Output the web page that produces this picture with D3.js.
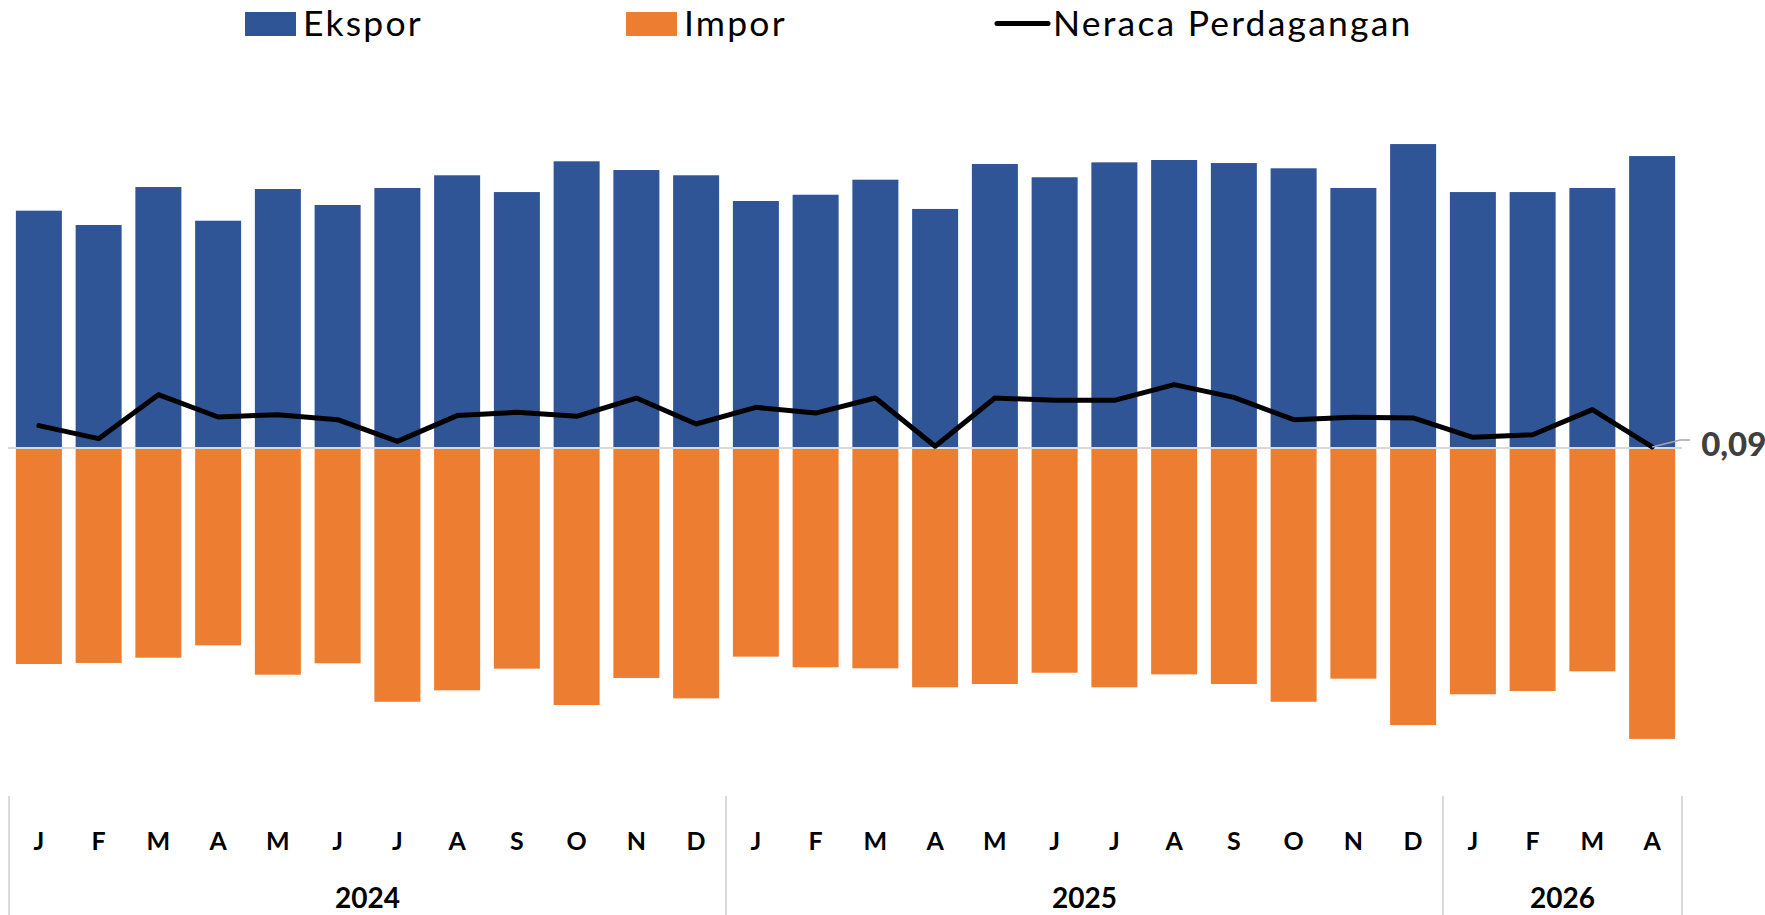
<!DOCTYPE html>
<html>
<head>
<meta charset="utf-8">
<script src="https://cdn.jsdelivr.net/npm/d3@7"></script>
<style>
  body { margin: 0; background: #fff; }
  svg text { font-family: Lato, "Open Sans", sans-serif; }
</style>
</head>
<body>
<div id="chart"></div>
<script>
const width = 1765;
const height = 915;

const monthLabels = ["J", "F", "M", "A", "M", "J", "J", "A", "S", "O", "N", "D",
                     "J", "F", "M", "A", "M", "J", "J", "A", "S", "O", "N", "D",
                     "J", "F", "M", "A"];
const years = ["2024", "2025", "2026"];
const yearMonths = [12, 12, 4];

// miliar USD
const ekspor = [20.37, 19.14, 22.40, 19.51, 22.23, 20.86, 22.32, 23.41, 21.97, 24.61, 23.86, 23.41,
                21.20, 21.74, 23.03, 20.52, 24.38, 23.24, 24.52, 24.72, 24.46, 24.01, 22.32, 26.09,
                21.97, 21.97, 22.32, 25.06];
const impor = [18.54, 18.45, 18.00, 16.94, 19.46, 18.48, 21.78, 20.80, 18.94, 22.06, 19.74, 21.49,
               17.91, 18.82, 18.91, 20.54, 20.26, 19.29, 20.54, 19.43, 20.26, 21.78, 19.80, 23.78,
               21.14, 20.86, 19.17, 24.97];
const neraca = [1.92, 0.80, 4.58, 2.66, 2.86, 2.43, 0.57, 2.78, 3.06, 2.72, 4.29, 2.06,
                3.49, 3.00, 4.29, 0.15, 4.29, 4.09, 4.09, 5.44, 4.35, 2.43, 2.63, 2.58,
                0.92, 1.14, 3.29, 0.09];
const lastLabel = "0,09";

const blue = "#2F5597";
const orange = "#ED7D31";
const grid = "#D9D9D9";

const data = monthLabels.map((m, i) => ({
    i: i, month: m, ekspor: ekspor[i], impor: impor[i], neraca: neraca[i]
}));

const svg = d3.select("#chart").append("svg")
    .attr("width", width)
    .attr("height", height)
    .attr("viewBox", [0, 0, width, height]);

const xScale = d3.scaleBand()
    .domain(data.map(d => d.i))
    .range([9, 1682])
    .paddingInner(0.23)
    .paddingOuter(0.115);

const yScale = d3.scaleLinear()
    .domain([-30, 30])
    .range([448 + 30 * 11.65, 448 - 30 * 11.65]);

const cx = i => xScale(i) + xScale.bandwidth() / 2;

// bars
svg.selectAll(".ekspor")
    .data(data)
    .join("rect")
        .attr("class", "ekspor")
        .attr("x", d => xScale(d.i))
        .attr("y", d => yScale(d.ekspor))
        .attr("width", xScale.bandwidth())
        .attr("height", d => yScale(0) - yScale(d.ekspor))
        .attr("fill", blue);

svg.selectAll(".impor")
    .data(data)
    .join("rect")
        .attr("class", "impor")
        .attr("x", d => xScale(d.i))
        .attr("y", yScale(0))
        .attr("width", xScale.bandwidth())
        .attr("height", d => yScale(-d.impor) - yScale(0))
        .attr("fill", orange);

// zero line
svg.append("line")
    .attr("x1", 8).attr("x2", 1682)
    .attr("y1", yScale(0)).attr("y2", yScale(0))
    .attr("stroke", grid)
    .attr("stroke-width", 2);

// balance line
const lineGenerator = d3.line()
    .x(d => cx(d.i))
    .y(d => yScale(d.neraca));

svg.append("path")
    .datum(data)
    .attr("d", lineGenerator)
    .attr("fill", "none")
    .attr("stroke", "#000")
    .attr("stroke-width", 5)
    .attr("stroke-linejoin", "round")
    .attr("stroke-linecap", "round");

// last value label with leader
const last = data[data.length - 1];
const lx = cx(last.i), ly = yScale(last.neraca);
svg.append("polyline")
    .attr("points", [[lx, ly], [lx + 28, ly - 7], [lx + 38, ly - 7]].join(" "))
    .attr("fill", "none")
    .attr("stroke", "#A6A6A6")
    .attr("stroke-width", 1.5);

svg.append("text")
    .attr("x", lx + 49)
    .attr("y", ly - 4)
    .attr("dominant-baseline", "central")
    .attr("font-size", 33)
    .attr("font-weight", 900)
    .attr("fill", "#404040")
    .text(lastLabel);

// month axis
const axis = svg.append("g");

axis.selectAll(".month")
    .data(data)
    .join("text")
        .attr("class", "month")
        .attr("x", d => cx(d.i))
        .attr("y", 840)
        .attr("text-anchor", "middle")
        .attr("dominant-baseline", "central")
        .attr("font-size", 25)
        .attr("font-weight", "bold")
        .text(d => d.month);

const step = xScale.step();
const x0 = 9;
let start = 0;
const groups = years.map((y, k) => {
    const g = { year: y, from: start, to: start + yearMonths[k] };
    start += yearMonths[k];
    return g;
});

axis.selectAll(".sep")
    .data([0, ...groups.map(g => g.to)])
    .join("line")
        .attr("class", "sep")
        .attr("x1", d => x0 + d * step)
        .attr("x2", d => x0 + d * step)
        .attr("y1", 796)
        .attr("y2", height)
        .attr("stroke", grid)
        .attr("stroke-width", 2);

axis.selectAll(".year")
    .data(groups)
    .join("text")
        .attr("class", "year")
        .attr("x", d => x0 + (d.from + d.to) / 2 * step)
        .attr("y", 897)
        .attr("text-anchor", "middle")
        .attr("dominant-baseline", "central")
        .attr("font-size", 28)
        .attr("font-weight", "bold")
        .text(d => d.year);

// legend
const legend = svg.append("g");
const legendItems = [
    { name: "Ekspor", type: "rect", color: blue, x: 245 },
    { name: "Impor", type: "rect", color: orange, x: 626 },
    { name: "Neraca Perdagangan", type: "line", color: "#000", x: 995 }
];

legendItems.forEach(item => {
    if (item.type === "rect") {
        legend.append("rect")
            .attr("x", item.x).attr("y", 12)
            .attr("width", 51).attr("height", 24)
            .attr("fill", item.color);
    } else {
        legend.append("line")
            .attr("x1", item.x + 2).attr("x2", item.x + 53)
            .attr("y1", 23.5).attr("y2", 23.5)
            .attr("stroke", item.color)
            .attr("stroke-width", 5)
            .attr("stroke-linecap", "round");
    }
    legend.append("text")
        .attr("x", item.x + 58)
        .attr("y", 36)
        .attr("font-size", 35.5)
        .attr("letter-spacing", 2.2)
        .attr("fill", "#000")
        .text(item.name);
});
</script>
</body>
</html>
